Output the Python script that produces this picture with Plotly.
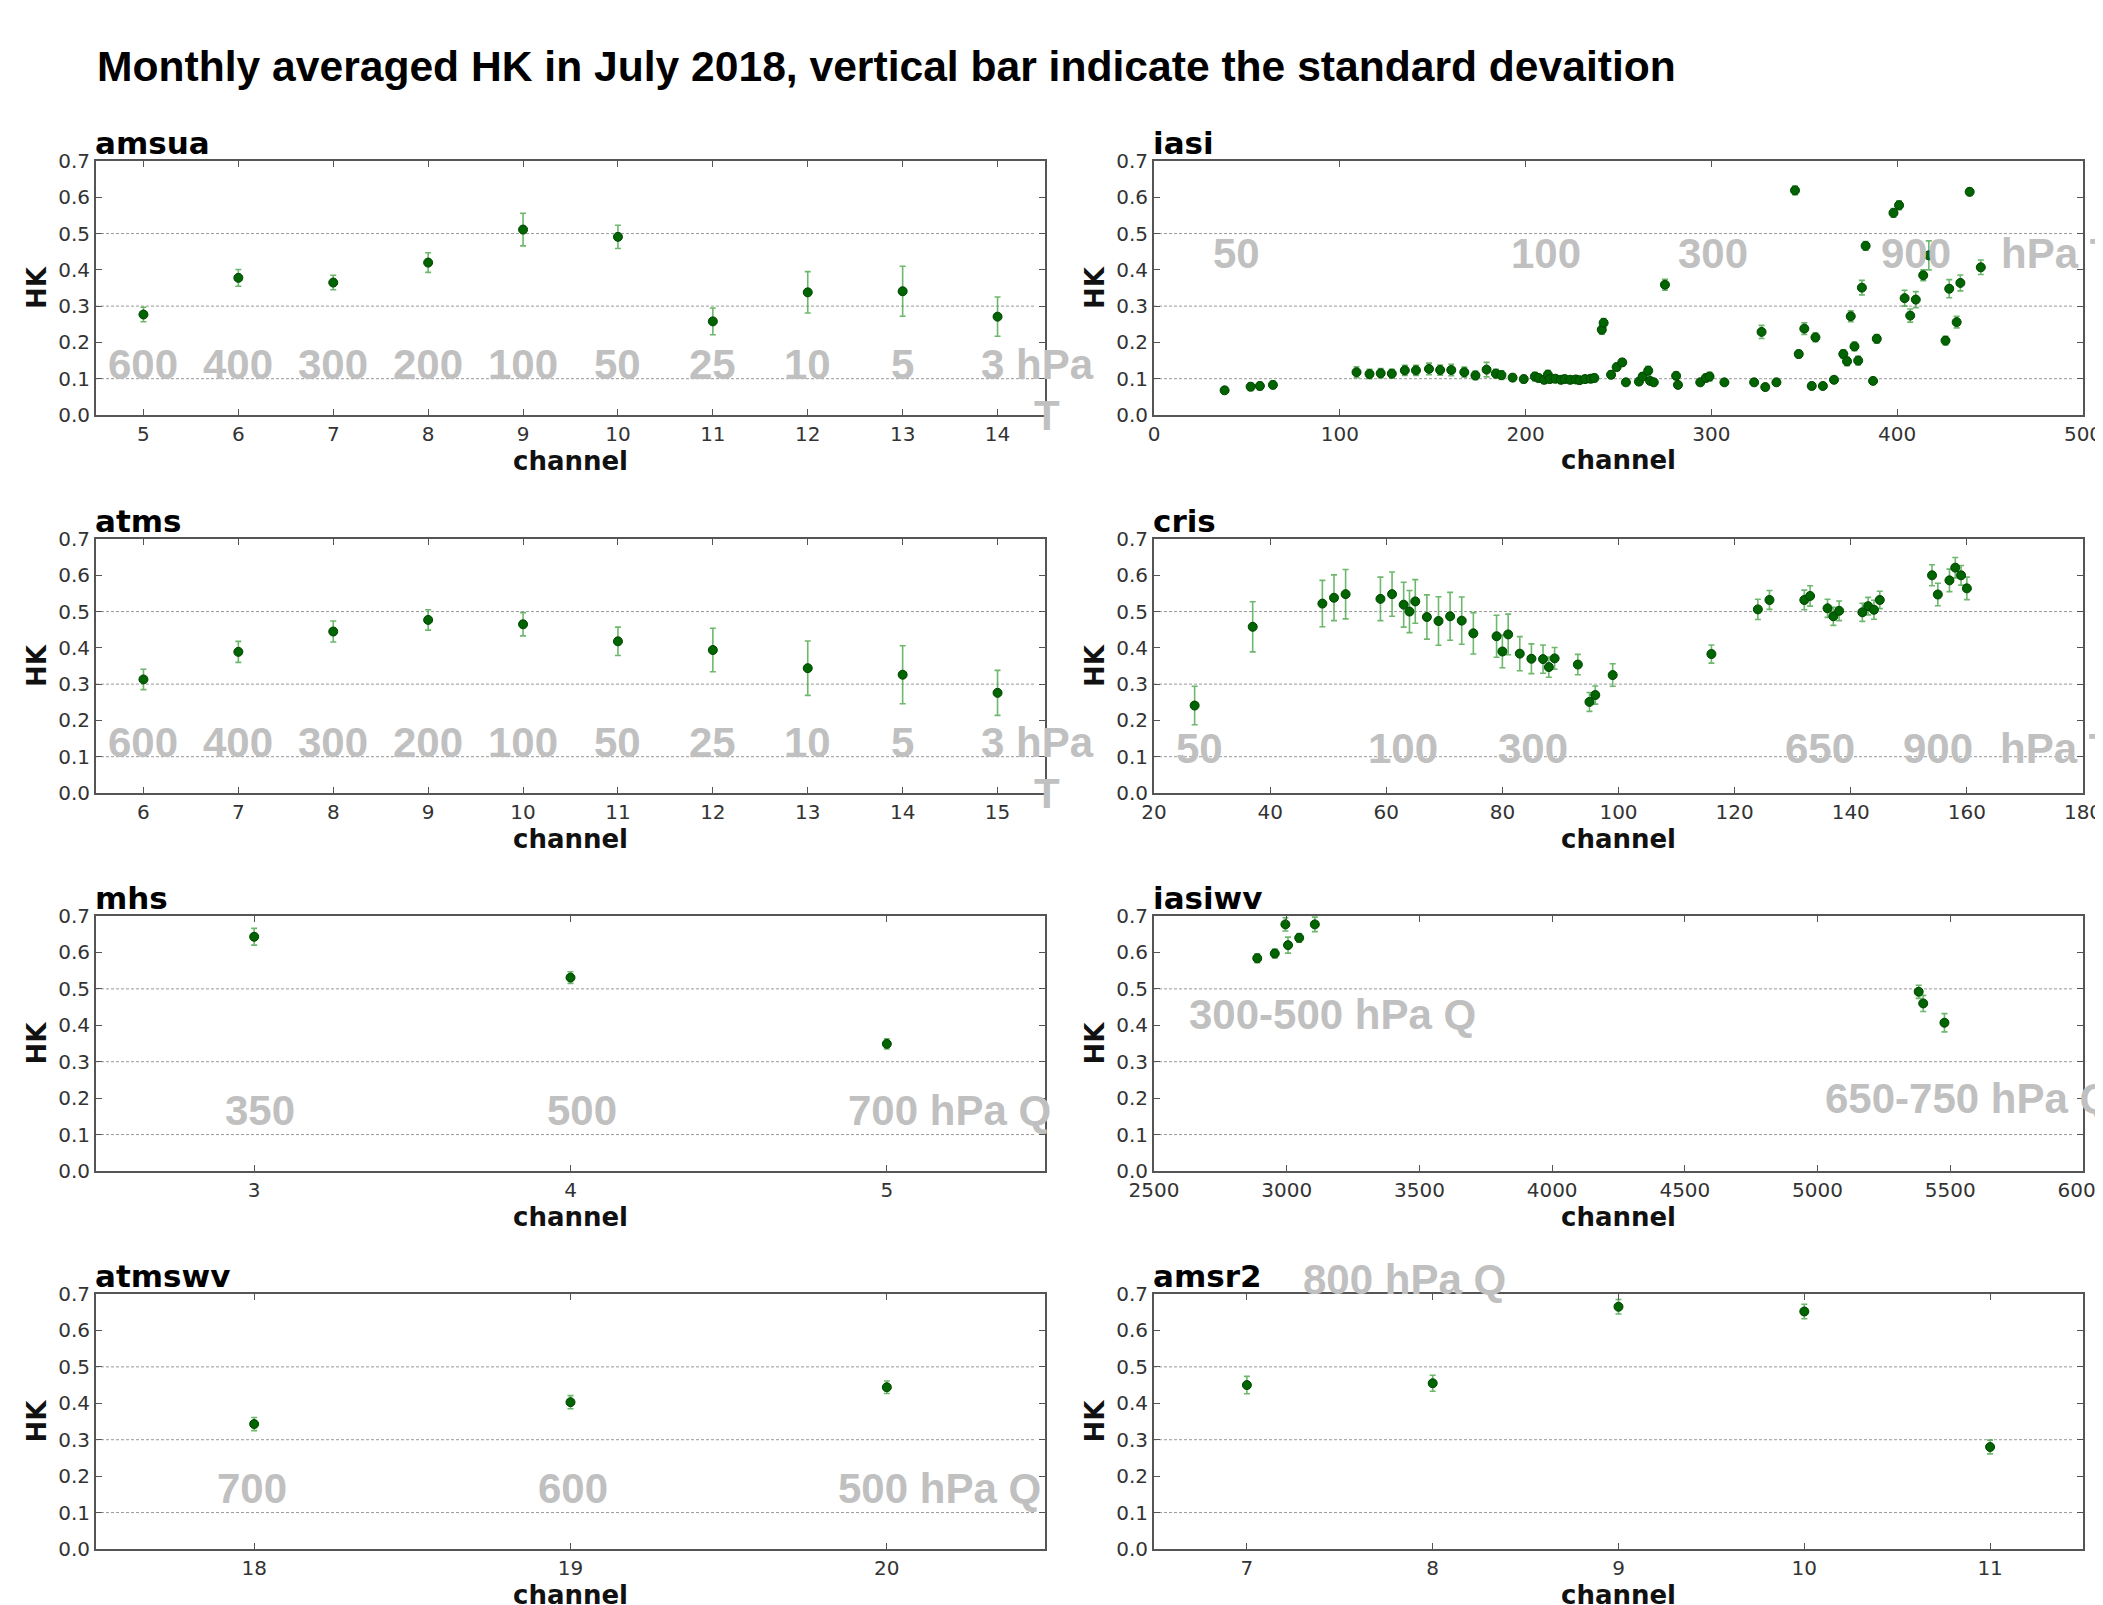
import plotly.graph_objects as go

# ---------------- data ----------------
amsua_ch = [5, 6, 7, 8, 9, 10, 11, 12, 13, 14]
amsua_hk = [0.277, 0.378, 0.365, 0.420, 0.511, 0.491, 0.258, 0.338, 0.341, 0.271]
amsua_sd = [0.020, 0.023, 0.020, 0.027, 0.045, 0.032, 0.037, 0.057, 0.069, 0.054]

atms_ch = [6, 7, 8, 9, 10, 11, 12, 13, 14, 15]
atms_hk = [0.313, 0.389, 0.445, 0.477, 0.465, 0.418, 0.394, 0.344, 0.326, 0.276]
atms_sd = [0.028, 0.029, 0.029, 0.028, 0.032, 0.039, 0.060, 0.075, 0.080, 0.062]

mhs_ch = [3, 4, 5]
mhs_hk = [0.643, 0.531, 0.349]
mhs_sd = [0.023, 0.016, 0.014]

atmswv_ch = [18, 19, 20]
atmswv_hk = [0.343, 0.403, 0.444]
atmswv_sd = [0.018, 0.018, 0.017]

amsr2_ch = [7, 8, 9, 10, 11]
amsr2_hk = [0.450, 0.455, 0.665, 0.652, 0.280]
amsr2_sd = [0.024, 0.022, 0.020, 0.020, 0.019]

iasiwv_ch = [2889, 2955, 2995, 3005, 3047, 3106, 5381, 5398, 5478]
iasiwv_hk = [0.584, 0.597, 0.677, 0.620, 0.640, 0.677, 0.492, 0.460, 0.407]
iasiwv_sd = [0.012, 0.012, 0.018, 0.022, 0.012, 0.020, 0.018, 0.022, 0.025]

iasi_ch = [38, 52, 57, 64, 109, 116, 122, 128, 135, 141, 148, 154, 160, 167, 173, 179,
           184, 187, 193, 199, 205, 207, 210, 212, 213, 216, 219, 221, 224, 227, 229,
           232, 235, 237, 241, 242, 246, 249, 252, 254, 261, 263, 266, 267, 269, 275,
           281, 282, 294, 297, 299, 307, 323, 327, 329, 335, 345, 347, 350, 354, 356,
           360, 366, 371, 373, 375, 377, 379, 381, 383, 387, 389, 398, 401, 404, 407,
           410, 414, 417, 426, 428, 432, 434, 439, 445]
iasi_hk = [0.068, 0.078, 0.080, 0.083, 0.118, 0.113, 0.115, 0.114, 0.123, 0.123, 0.127,
           0.124, 0.124, 0.118, 0.109, 0.125, 0.114, 0.110, 0.103, 0.099, 0.106, 0.102,
           0.097, 0.111, 0.099, 0.100, 0.097, 0.099, 0.097, 0.098, 0.096, 0.099, 0.100,
           0.102, 0.235, 0.254, 0.111, 0.132, 0.145, 0.090, 0.092, 0.106, 0.122, 0.094,
           0.090, 0.359, 0.108, 0.083, 0.090, 0.102, 0.106, 0.090, 0.090, 0.229, 0.077,
           0.090, 0.619, 0.168, 0.238, 0.080, 0.214, 0.080, 0.097, 0.168, 0.148, 0.272,
           0.189, 0.150, 0.351, 0.466, 0.094, 0.210, 0.557, 0.578, 0.322, 0.274, 0.318,
           0.385, 0.440, 0.205, 0.348, 0.256, 0.364, 0.615, 0.407]
iasi_sd = [0.008, 0.010, 0.010, 0.010, 0.015, 0.013, 0.013, 0.012, 0.014, 0.014, 0.016,
           0.014, 0.016, 0.014, 0.012, 0.020, 0.012, 0.012, 0.010, 0.010, 0.012, 0.010,
           0.010, 0.012, 0.010, 0.010, 0.010, 0.010, 0.010, 0.010, 0.010, 0.010, 0.010,
           0.010, 0.012, 0.012, 0.010, 0.010, 0.010, 0.008, 0.008, 0.010, 0.012, 0.008,
           0.008, 0.015, 0.010, 0.008, 0.008, 0.010, 0.012, 0.008, 0.008, 0.018, 0.008,
           0.008, 0.012, 0.010, 0.016, 0.008, 0.012, 0.008, 0.008, 0.012, 0.012, 0.015,
           0.012, 0.012, 0.020, 0.012, 0.008, 0.012, 0.012, 0.012, 0.022, 0.018, 0.022,
           0.015, 0.040, 0.012, 0.025, 0.016, 0.022, 0.010, 0.020]

cris_ch = [27, 37, 49, 51, 53, 59, 61, 63, 64, 65, 67, 69, 71, 73, 75, 79, 80, 81, 83,
           85, 87, 88, 89, 93, 95, 96, 99, 116, 124, 126, 132, 133, 136, 137, 138, 142,
           143, 144, 145, 154, 155, 157, 158, 159, 160]
cris_hk = [0.241, 0.458, 0.522, 0.538, 0.548, 0.535, 0.548, 0.519, 0.500, 0.528, 0.485,
           0.474, 0.487, 0.475, 0.440, 0.432, 0.390, 0.437, 0.384, 0.370, 0.369, 0.347,
           0.371, 0.354, 0.251, 0.270, 0.325, 0.383, 0.506, 0.532, 0.532, 0.543, 0.509,
           0.487, 0.502, 0.498, 0.515, 0.505, 0.532, 0.600, 0.547, 0.586, 0.621, 0.600,
           0.564]
cris_sd = [0.053, 0.069, 0.064, 0.063, 0.068, 0.060, 0.061, 0.062, 0.058, 0.060, 0.061,
           0.067, 0.066, 0.065, 0.057, 0.058, 0.045, 0.056, 0.047, 0.041, 0.039, 0.028,
           0.030, 0.028, 0.026, 0.025, 0.031, 0.025, 0.028, 0.026, 0.027, 0.028, 0.025,
           0.025, 0.027, 0.025, 0.024, 0.026, 0.024, 0.029, 0.031, 0.031, 0.028, 0.027,
           0.031]

panel_names = ["amsua", "iasi", "atms", "cris", "mhs", "iasiwv", "atmswv", "amsr2"]
title_text = "Monthly averaged HK in July 2018, vertical bar indicate the standard devaition"
y_ticks = [0.0, 0.1, 0.2, 0.3, 0.4, 0.5, 0.6, 0.7]
ref_levels = [0.1, 0.3, 0.5]

x_tick_values = {
    "amsua": [5, 6, 7, 8, 9, 10, 11, 12, 13, 14],
    "iasi": [0, 100, 200, 300, 400, 500],
    "atms": [6, 7, 8, 9, 10, 11, 12, 13, 14, 15],
    "cris": [20, 40, 60, 80, 100, 120, 140, 160, 180],
    "mhs": [3, 4, 5],
    "iasiwv": [2500, 3000, 3500, 4000, 4500, 5000, 5500, 6000],
    "atmswv": [18, 19, 20],
    "amsr2": [7, 8, 9, 10, 11],
}

series = {
    "amsua": (amsua_ch, amsua_hk, amsua_sd),
    "iasi": (iasi_ch, iasi_hk, iasi_sd),
    "atms": (atms_ch, atms_hk, atms_sd),
    "cris": (cris_ch, cris_hk, cris_sd),
    "mhs": (mhs_ch, mhs_hk, mhs_sd),
    "iasiwv": (iasiwv_ch, iasiwv_hk, iasiwv_sd),
    "atmswv": (atmswv_ch, atmswv_hk, atmswv_sd),
    "amsr2": (amsr2_ch, amsr2_hk, amsr2_sd),
}

# ---------------- layout settings ----------------
W, H = 2103, 1605
OFF = 8  # page body margin in the browser
col_x = [(96, 1045), (1154, 2083)]
row_y = [(161, 415), (539, 793), (916, 1171), (1294, 1549)]

x_ranges = {
    "amsua": [4.5, 14.5], "iasi": [0, 500], "atms": [5.5, 15.5], "cris": [20, 180],
    "mhs": [2.5, 5.5], "iasiwv": [2500, 6000], "atmswv": [17.5, 20.5], "amsr2": [6.5, 11.5],
}

# gray pressure-level labels: (text, x, y, xanchor) in data units
level_labels = {
    "amsua": [("600", 5, 0.138, "center"), ("400", 6, 0.138, "center"),
              ("300", 7, 0.138, "center"), ("200", 8, 0.138, "center"),
              ("100", 9, 0.138, "center"), ("50", 10, 0.138, "center"),
              ("25", 11, 0.138, "center"), ("10", 12, 0.138, "center"),
              ("5", 13, 0.138, "center"), ("3 hPa", 13.8, 0.138, "left")],
    "atms": [("600", 6, 0.14, "center"), ("400", 7, 0.14, "center"),
             ("300", 8, 0.14, "center"), ("200", 9, 0.14, "center"),
             ("100", 10, 0.14, "center"), ("50", 11, 0.14, "center"),
             ("25", 12, 0.14, "center"), ("10", 13, 0.14, "center"),
             ("5", 14, 0.14, "center"), ("3 hPa", 14.8, 0.14, "left")],
    "iasi": [("50", 44.5, 0.445, "center"), ("100", 211, 0.445, "center"),
             ("300", 301, 0.445, "center"), ("900", 410, 0.445, "center"),
             ("hPa T", 455, 0.445, "left")],
    "cris": [("50", 27.9, 0.123, "center"), ("100", 62.9, 0.123, "center"),
             ("300", 85.3, 0.123, "center"), ("650", 134.7, 0.123, "center"),
             ("900", 155.0, 0.123, "center"), ("hPa T", 165.4, 0.123, "left")],
    "mhs": [("350", 3.017, 0.165, "center"), ("500", 4.035, 0.165, "center"),
            ("700 hPa Q", 4.87, 0.165, "left")],
    "iasiwv": [("300-500 hPa Q", 2625, 0.429, "left"),
               ("650-750 hPa Q", 5020, 0.200, "left")],
    "atmswv": [("700", 17.994, 0.165, "center"), ("600", 19.008, 0.165, "center"),
               ("500 hPa Q", 19.84, 0.165, "left")],
    "amsr2": [],
}
# labels lying outside the axes (axis-domain units): (text, x, y, xanchor)
outside_labels = {
    "amsua": [("T", 1.002, 0.0, "center")],
    "atms": [("T", 1.002, 0.0, "center")],
    "amsr2": [("800 hPa Q", 0.1585, 1.055, "left")],
}

MPL_FONT = "DejaVu Sans"
PPT_FONT = "Liberation Sans, Arial, sans-serif"
GREEN = "#006400"
ERR_GREEN = "rgba(60,160,60,0.75)"
FRAME = "#555555"
LABEL_GRAY = "#c0c0c0"
LABEL_FONT = dict(family=PPT_FONT, size=42, color=LABEL_GRAY, weight="bold")

fig = go.Figure()
annotations = []
shapes = []

for i, name in enumerate(panel_names):
    r, c = divmod(i, 2)
    n = i + 1
    xa = "x" if n == 1 else f"x{n}"
    ya = "y" if n == 1 else f"y{n}"
    xk = "xaxis" if n == 1 else f"xaxis{n}"
    yk = "yaxis" if n == 1 else f"yaxis{n}"
    ch, hk, sd = series[name]
    fig.add_trace(go.Scatter(
        x=ch, y=hk, mode="markers", xaxis=xa, yaxis=ya,
        marker=dict(size=9, color=GREEN, line=dict(color="#004400", width=1)),
        error_y=dict(type="data", array=sd, visible=True, color=ERR_GREEN,
                     thickness=1.6, width=3),
        cliponaxis=False, showlegend=False,
    ))
    x0, x1 = col_x[c]
    y0, y1 = row_y[r]
    xaxis = dict(
        domain=[(x0 - OFF) / W, (x1 - OFF) / W], anchor=ya, range=x_ranges[name],
        tickvals=x_tick_values[name],
        showline=True, linecolor=FRAME, linewidth=2, mirror="allticks",
        ticks="inside", ticklen=6, tickcolor=FRAME, showgrid=False, zeroline=False,
        tickfont=dict(family=MPL_FONT, size=20, color="#333333"),
        title=dict(text="channel", standoff=6,
                   font=dict(family=MPL_FONT, size=26, color="#111111", weight="bold")),
        automargin=False,
    )
    yaxis = dict(
        domain=[1 - (y1 - OFF) / H, 1 - (y0 - OFF) / H], anchor=xa, range=[0, 0.7],
        tickvals=y_ticks, tickformat=".1f",
        showline=True, linecolor=FRAME, linewidth=2, mirror="allticks",
        ticks="inside", ticklen=6, tickcolor=FRAME, showgrid=False, zeroline=False,
        tickfont=dict(family=MPL_FONT, size=20, color="#333333"),
        title=dict(text="HK", standoff=4,
                   font=dict(family=MPL_FONT, size=26, color="#111111", weight="bold")),
        automargin=False,
    )
    fig.update_layout({xk: xaxis, yk: yaxis})

    for lv in ref_levels:
        shapes.append(dict(type="line", xref=f"{xa} domain", yref=ya,
                           x0=0, x1=0.99, y0=lv, y1=lv, layer="below",
                           line=dict(color="#999999", width=1, dash="3px,2px")))

    annotations.append(dict(
        text=name, xref=f"{xa} domain", yref=f"{ya} domain", x=-0.003, y=1.0,
        xanchor="left", yanchor="bottom", showarrow=False, yshift=-2,
        font=dict(family=MPL_FONT, size=31, color="#000000", weight="bold"),
    ))
    for txt, lx, ly, anc in level_labels[name]:
        annotations.append(dict(
            text=txt, xref=xa, yref=ya, x=lx, y=ly, xanchor=anc, yanchor="middle",
            showarrow=False, font=LABEL_FONT,
        ))
    for txt, lx, ly, anc in outside_labels.get(name, []):
        annotations.append(dict(
            text=txt, xref=f"{xa} domain", yref=f"{ya} domain", x=lx, y=ly,
            xanchor=anc, yanchor="middle", showarrow=False, font=LABEL_FONT,
        ))

annotations.append(dict(
    text=title_text, xref="paper", yref="paper", x=(95 - OFF) / W, y=1 - (66 - OFF) / H,
    xanchor="left", yanchor="middle", showarrow=False,
    font=dict(family=PPT_FONT, size=42.6, color="#000000", weight="bold"),
))

fig.update_layout(
    width=W, height=H, margin=dict(l=0, r=0, t=0, b=0),
    paper_bgcolor="white", plot_bgcolor="white", showlegend=False,
    annotations=annotations, shapes=shapes,
)

fig.write_html("out.html")
